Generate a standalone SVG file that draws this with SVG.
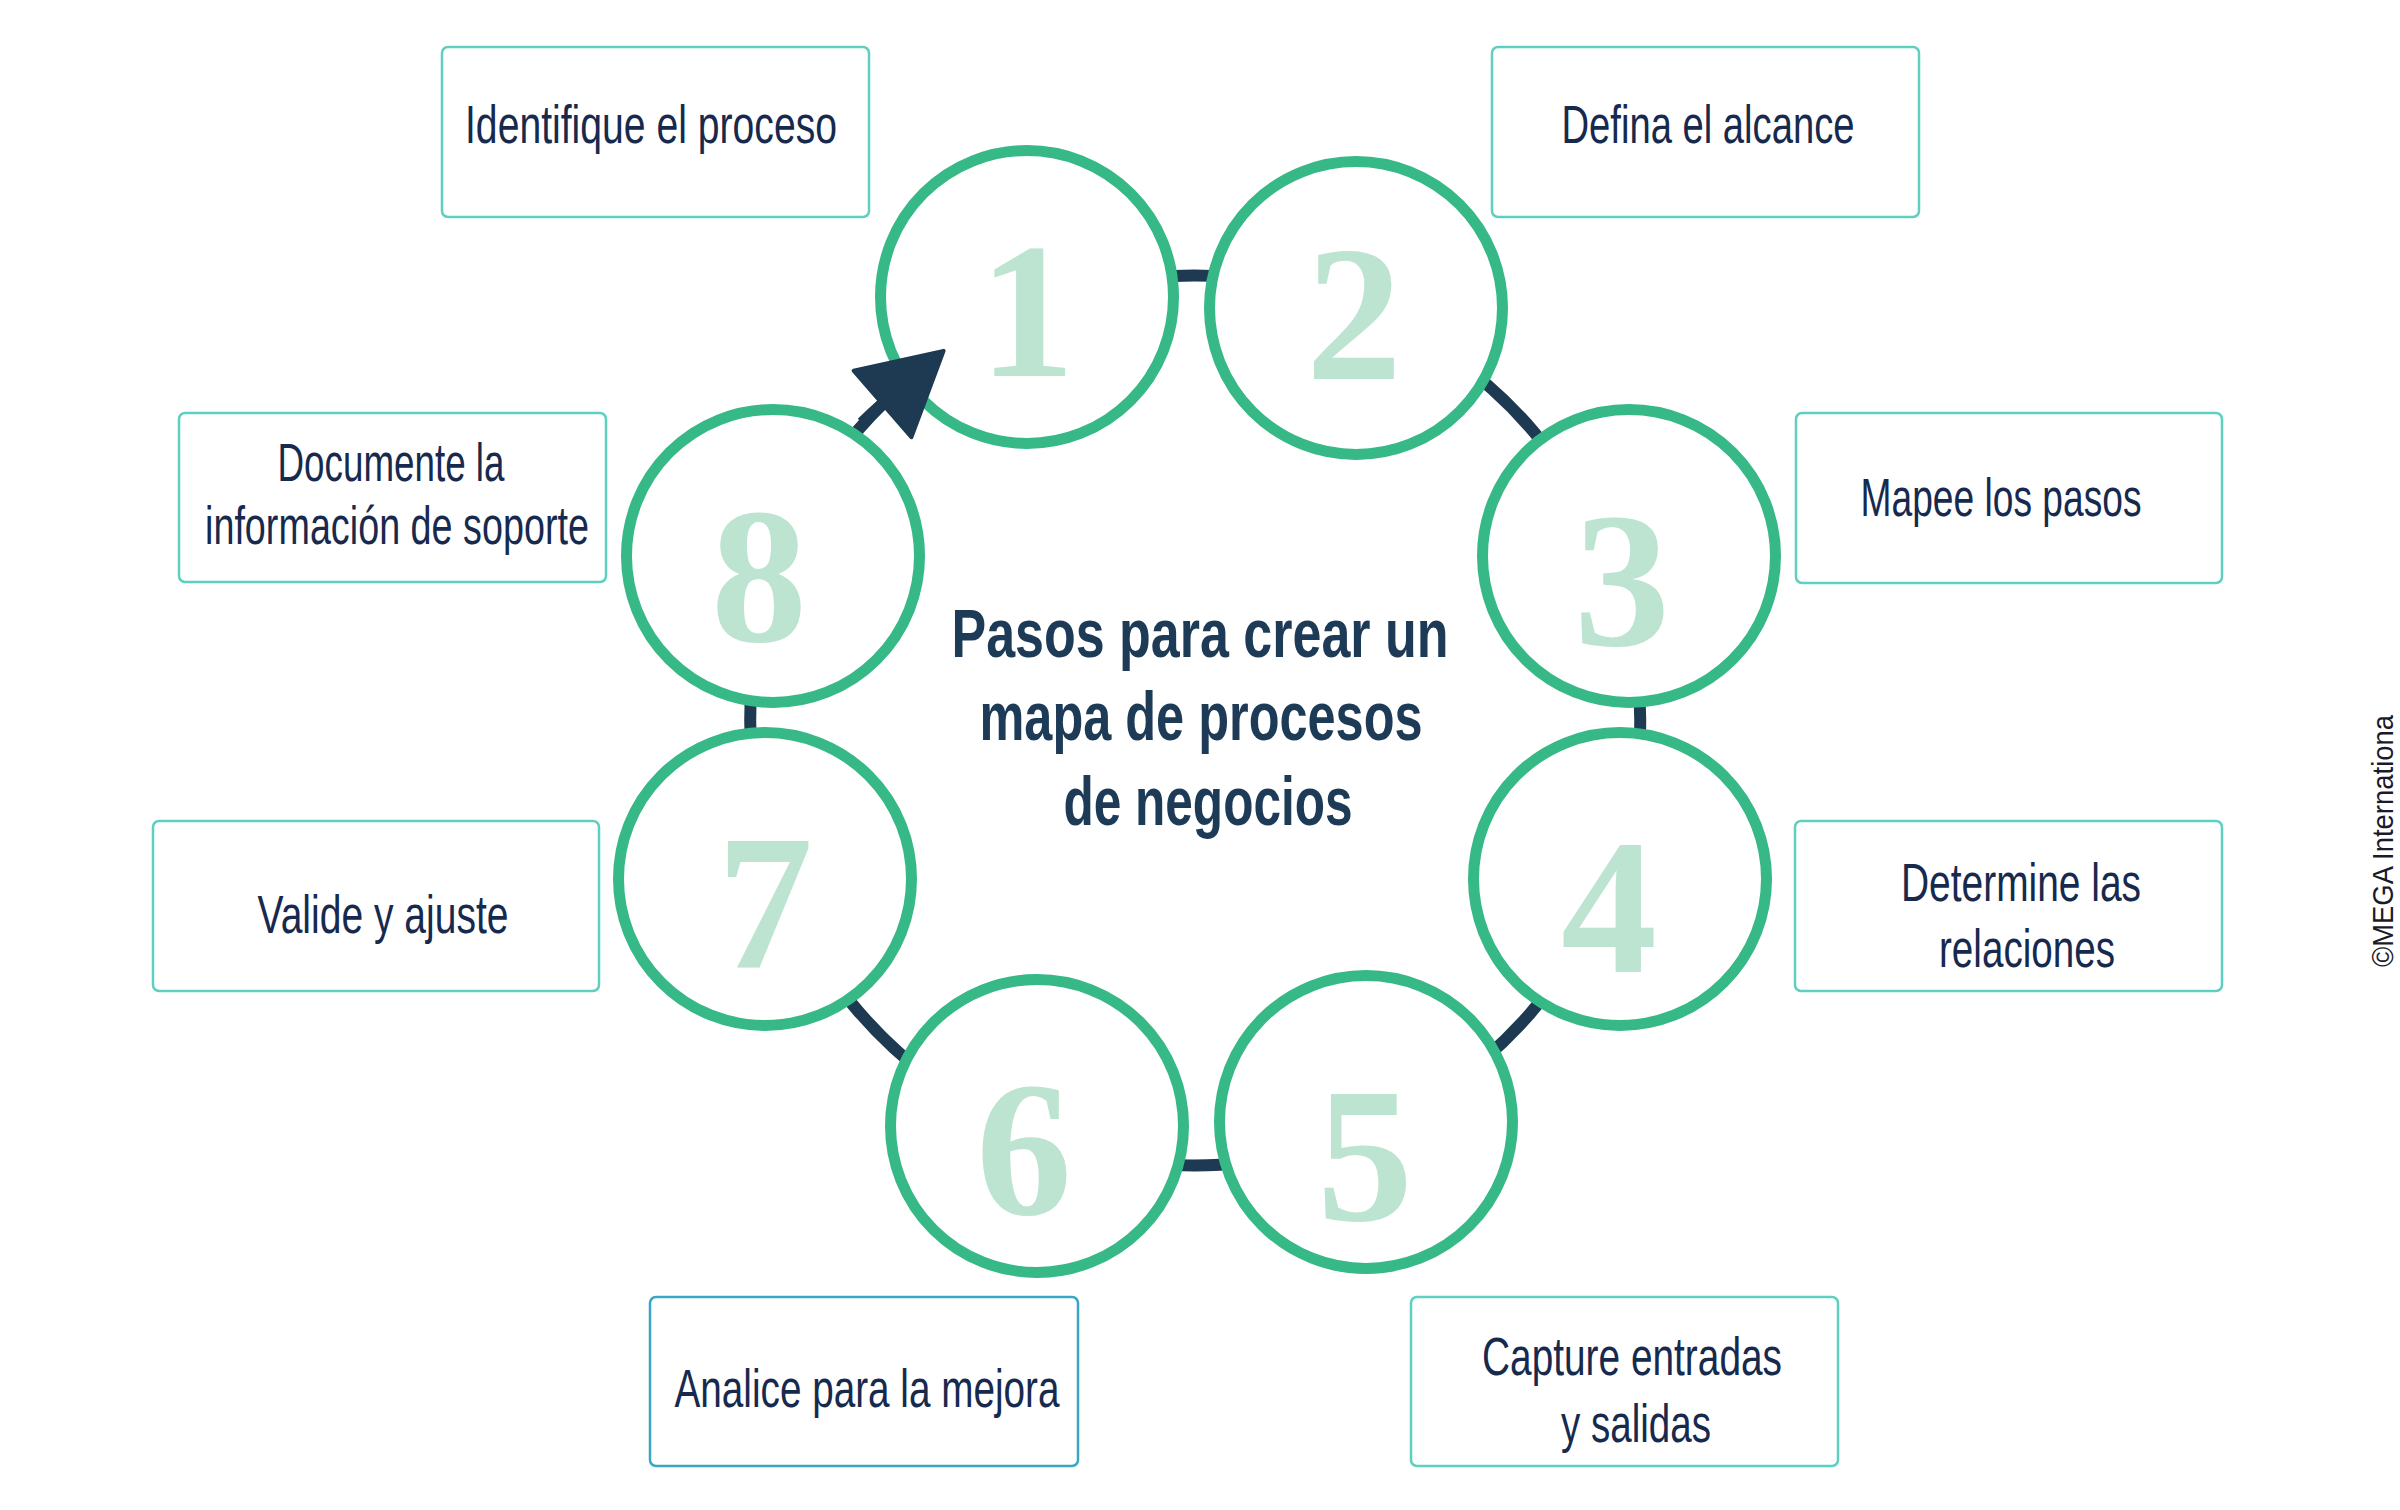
<svg xmlns="http://www.w3.org/2000/svg" width="2400" height="1510" viewBox="0 0 2400 1510">
<defs>
<style>
.box{fill:#ffffff;stroke:#5fcfbf;stroke-width:2.5}
.box2{fill:#ffffff;stroke:#3aa6c6;stroke-width:2.5}
.lbl{font-family:"Liberation Sans Narrow","Liberation Sans","DejaVu Sans Condensed",sans-serif;font-size:53px;fill:#172a4e;text-anchor:middle}
.ring{fill:#ffffff;stroke:#37b887;stroke-width:11}
.num{font-family:"Liberation Serif","DejaVu Serif",serif;font-weight:bold;font-size:192px;fill:#bde3d1;text-anchor:middle}
.title{font-family:"Liberation Sans Narrow","Liberation Sans","DejaVu Sans Condensed",sans-serif;font-weight:bold;font-size:68px;fill:#1d3a56;text-anchor:middle}
.conn{fill:none;stroke:#1d3a52;stroke-width:12}
.copy{font-family:"Liberation Sans Narrow","Liberation Sans",sans-serif;font-size:30px;fill:#1a1a2a}
</style>
<marker id="arrowhead" markerUnits="userSpaceOnUse" markerWidth="100" markerHeight="100" viewBox="-5 -50 100 100" refX="0" refY="0" orient="auto">
<path d="M0,-44 L81,0 L0,44 Z" fill="#1d3a52" stroke="#1d3a52" stroke-width="4" stroke-linejoin="round"/>
</marker>
</defs>
<rect x="0" y="0" width="2400" height="1510" fill="#ffffff"/>

<g id="connectors">
<path class="conn" d="M 1031 307 A 445 445 0 1 1 882.5 404"/>
</g>

<g id="step-circles">
<g id="c1"><circle class="ring" cx="1027" cy="297" r="146.5"/><text class="num" x="1027" y="376">1</text></g>
<g id="c2"><circle class="ring" cx="1356" cy="308" r="146.5"/><text class="num" x="1354" y="379">2</text></g>
<g id="c3"><circle class="ring" cx="1629" cy="556" r="146.5"/><text class="num" x="1622" y="645">3</text></g>
<g id="c4"><circle class="ring" cx="1620" cy="879" r="146.5"/><text class="num" x="1609" y="972">4</text></g>
<g id="c5"><circle class="ring" cx="1366" cy="1122" r="146.5"/><text class="num" x="1365" y="1220">5</text></g>
<g id="c6"><circle class="ring" cx="1037" cy="1126" r="146.5"/><text class="num" x="1024" y="1214">6</text></g>
<g id="c7"><circle class="ring" cx="765" cy="879" r="146.5"/><text class="num" x="765" y="967">7</text></g>
<g id="c8"><circle class="ring" cx="773" cy="556" r="146.5"/><text class="num" x="759" y="641">8</text></g>
</g>

<g id="connector-arrow">
<path class="conn" d="M 862 423 A 445 445 0 0 1 882.5 404" marker-end="url(#arrowhead)"/>
</g>

<g id="title">
<text class="title" x="1200" y="657" textLength="497" lengthAdjust="spacingAndGlyphs">Pasos para crear un</text>
<text class="title" x="1201" y="740" textLength="443" lengthAdjust="spacingAndGlyphs">mapa de procesos</text>
<text class="title" x="1208" y="825" textLength="289" lengthAdjust="spacingAndGlyphs">de negocios</text>
</g>

<g id="box1"><rect class="box" x="442" y="47" width="427" height="170" rx="6"/>
<text class="lbl" x="651" y="143" textLength="372" lengthAdjust="spacingAndGlyphs">Identifique el proceso</text></g>
<g id="box2"><rect class="box" x="1492" y="47" width="427" height="170" rx="6"/>
<text class="lbl" x="1708" y="143" textLength="293" lengthAdjust="spacingAndGlyphs">Defina el alcance</text></g>
<g id="box3"><rect class="box" x="1796" y="413" width="426" height="170" rx="6"/>
<text class="lbl" x="2001" y="516" textLength="281" lengthAdjust="spacingAndGlyphs">Mapee los pasos</text></g>
<g id="box4"><rect class="box" x="1795" y="821" width="427" height="170" rx="6"/>
<text class="lbl" x="2021" y="901" textLength="240" lengthAdjust="spacingAndGlyphs">Determine las</text>
<text class="lbl" x="2027" y="967" textLength="176" lengthAdjust="spacingAndGlyphs">relaciones</text></g>
<g id="box5"><rect class="box" x="1411" y="1297" width="427" height="169" rx="6"/>
<text class="lbl" x="1632" y="1375" textLength="300" lengthAdjust="spacingAndGlyphs">Capture entradas</text>
<text class="lbl" x="1636" y="1442" textLength="150" lengthAdjust="spacingAndGlyphs">y salidas</text></g>
<g id="box6"><rect class="box2" x="650" y="1297" width="428" height="169" rx="6"/>
<text class="lbl" x="867" y="1407" textLength="385" lengthAdjust="spacingAndGlyphs">Analice para la mejora</text></g>
<g id="box7"><rect class="box" x="153" y="821" width="446" height="170" rx="6"/>
<text class="lbl" x="383" y="933" textLength="251" lengthAdjust="spacingAndGlyphs">Valide y ajuste</text></g>
<g id="box8"><rect class="box" x="179" y="413" width="427" height="169" rx="6"/>
<text class="lbl" x="391" y="481" textLength="227" lengthAdjust="spacingAndGlyphs">Documente la</text>
<text class="lbl" x="397" y="544" textLength="384" lengthAdjust="spacingAndGlyphs">información de soporte</text></g>

<text class="copy" transform="translate(2393,967) rotate(-90)" textLength="252" lengthAdjust="spacingAndGlyphs">©MEGA Internationa</text>
</svg>
